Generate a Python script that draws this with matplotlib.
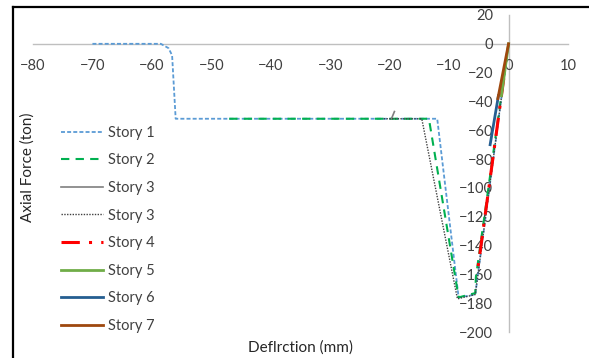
import matplotlib
matplotlib.use("Agg")
import matplotlib.pyplot as plt
from matplotlib.lines import Line2D

plt.rcParams['font.family'] = ['Lato', 'DejaVu Sans']

# ---- data (deflection mm, axial force ton) ----
s1_x = [-70, -58.5, -57.2, -56.6, -56.0, -12.0, -8.4, -5.6, 0]
s1_y = [0, 0, -3, -8, -52, -52, -176, -174, 0]
s2_x = [-47, -13.4, -8.4, -5.6, -5.5, 0]
s2_y = [-52, -52, -176, -173, -162, 0]
s3a_x = [-19.2, -19.7]
s3a_y = [-47, -52]
s3b_x = [-21, -14.6, -8.6, -5.6, 0]
s3b_y = [-52, -52, -177, -174, 0]
s4_x = [-0.8, -5.3]
s4_y = [-24, -160]
s5_x = [0, -1.2]
s5_y = [0, -36]
s6_x = [-3.1, -1.7]
s6_y = [-70, -36]
s7_x = [-1.8, 0]
s7_y = [-38, 0]

labels = ["Story 1", "Story 2", "Story 3", "Story 3", "Story 4", "Story 5", "Story 6", "Story 7"]
xticks = list(range(-80, 11, 10))
yticks = list(range(-200, 21, 20))

fig = plt.figure(figsize=(5.89, 3.58), dpi=100)
ax = fig.add_axes([33/589, 26/358, 535/589, 317/358])
ax.set_xlim(-80, 10)
ax.set_ylim(-200, 20)

kw = dict(zorder=3)
ax.plot(s1_x, s1_y, color='#5B9BD5', lw=1.3, dashes=(2.2, 1.2), label=labels[0], **kw)
ax.plot(s2_x, s2_y, color='#00B050', lw=1.5, dashes=(4, 3), label=labels[1], **kw)
ax.plot(s3a_x, s3a_y, color='#7F7F7F', lw=1.2, label=labels[2], **kw)
ax.plot(s3b_x, s3b_y, color='#404040', lw=1.0, dashes=(1, 1), label=labels[3], **kw)
ax.plot(s4_x, s4_y, color='#FF0000', lw=2.2, dashes=(6, 3, 1, 3), label=labels[4], **kw)
ax.plot(s5_x, s5_y, color='#70AD47', lw=2.0, label=labels[5], **kw)
ax.plot(s6_x, s6_y, color='#255E91', lw=2.0, label=labels[6], **kw)
ax.plot(s7_x, s7_y, color='#9E480E', lw=2.0, label=labels[7], **kw)

for s in ['top', 'right']:
    ax.spines[s].set_visible(False)
ax.spines['left'].set_position(('data', 0))
ax.spines['bottom'].set_position(('data', 0))
for s in ['left', 'bottom']:
    ax.spines[s].set_color('#BFBFBF')
    ax.spines[s].set_linewidth(1.0)
    ax.spines[s].set_zorder(1)
ax.set_xticks(xticks)
ax.set_yticks(yticks)
ax.tick_params(length=0, labelsize=10.5, colors='#404040', pad=11)
ax.patch.set_alpha(0)

leg = ax.legend(loc='upper left', bbox_to_anchor=(55/589, 1 - 120/358),
                bbox_transform=fig.transFigure, frameon=False,
                fontsize=10.5, handlelength=2.9, labelspacing=0.93,
                handletextpad=0.3, borderaxespad=0)
for t in leg.get_texts():
    t.set_color('#404040')

fig.text(300/589, 1 - 348/358, "Deflrction (mm)", ha='center', va='center',
         fontsize=11, color='#262626')
fig.text(28/589, 1 - 167/358, "Axial Force (ton)", ha='center', va='center',
         rotation=90, fontsize=11, color='#262626')

# screenshot border (left and top)
fig.add_artist(Line2D([13/589, 13/589], [0, 1 - 7/358], transform=fig.transFigure,
                      color='black', lw=1.6))
fig.add_artist(Line2D([13/589, 1], [1 - 7/358, 1 - 7/358], transform=fig.transFigure,
                      color='black', lw=1.6))

fig.savefig("out.png", dpi=100)
